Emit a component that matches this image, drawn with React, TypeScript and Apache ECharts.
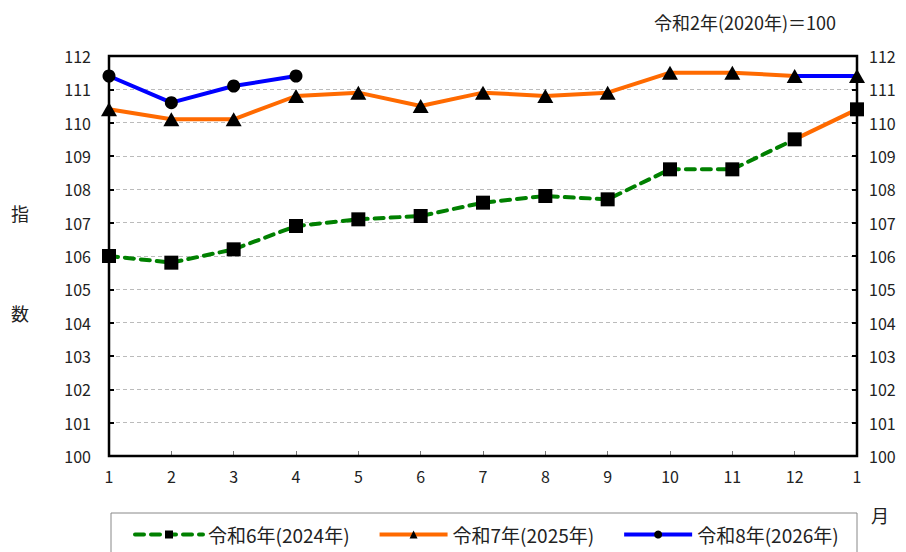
import React, { useEffect, useRef } from "react";
import * as echarts from "echarts";

const months = ["1", "2", "3", "4", "5", "6", "7", "8", "9", "10", "11", "12", "1"];
const r6Values = [106.0, 105.8, 106.2, 106.9, 107.1, 107.2, 107.6, 107.8, 107.7, 108.6, 108.6, 109.5, 110.4];
const r7Values = [110.4, 110.1, 110.1, 110.8, 110.9, 110.5, 110.9, 110.8, 110.9, 111.5, 111.5, 111.4, 111.4];
const r8Values = [111.4, 110.6, 111.1, 111.4];
const seriesNames = ["令和6年(2024年)", "令和7年(2025年)", "令和8年(2026年)"];
const yMin = 100;
const yMax = 112;

const FONT = "'Noto Sans CJK JP', 'Noto Sans', sans-serif";
const GREEN = "#008000";
const ORANGE = "#FF6A00";
const BLUE = "#0000FF";

// Dec -> next Jan segment is drawn in the next year's colour
const head = (vals: number[]) => vals.slice(0, vals.length - 1);
const tail = (vals: number[], symbol: string, size: number | number[]) =>
  vals.map((v, i) => {
    if (i < vals.length - 2) return null;
    if (i === vals.length - 2) return { value: v, symbol: "none" };
    return { value: v, symbol, symbolSize: size };
  });

export default function App() {
  const ref = useRef<HTMLDivElement>(null);
  useEffect(() => {
    document.body.style.margin = "0";
    const chart = echarts.init(ref.current!, null, { renderer: "svg" });
    const axisLabel = { fontFamily: FONT, fontSize: 16, color: "#222" };
    const gl = 109, gr = 49, gt = 56, gb = 96;
    chart.setOption({
      animation: false,
      textStyle: { fontFamily: FONT },
      grid: { left: gl, right: gr, top: gt, bottom: gb },
      xAxis: {
        type: "category",
        data: months,
        boundaryGap: false,
        axisLine: { show: true, lineStyle: { color: "#000", width: 2 } },
        axisTick: { show: true, inside: true, length: 5, lineStyle: { color: "#777" } },
        axisLabel: { ...axisLabel, margin: 12 },
        splitLine: { show: false },
      },
      yAxis: [
        {
          type: "value",
          min: yMin,
          max: yMax,
          interval: 1,
          position: "left",
          axisLine: { show: true, lineStyle: { color: "#000", width: 2 } },
          axisTick: { show: true, inside: true, length: 5, lineStyle: { color: "#000", width: 2 } },
          axisLabel: { ...axisLabel, margin: 18 },
          splitLine: { show: true, lineStyle: { color: "#bbb", type: [4, 3], width: 1 } },
        },
        {
          type: "value",
          min: yMin,
          max: yMax,
          interval: 1,
          position: "right",
          axisLine: { show: true, lineStyle: { color: "#000", width: 2 } },
          axisTick: { show: true, inside: true, length: 5, lineStyle: { color: "#000", width: 2 } },
          axisLabel: { ...axisLabel, margin: 12 },
          splitLine: { show: false },
        },
      ],
      legend: {
        data: seriesNames,
        left: 128,
        top: 520,
        itemWidth: 68,
        itemHeight: 10,
        itemGap: 28,
        lineStyle: { width: 4 },
        textStyle: { fontFamily: FONT, fontSize: 19, color: "#222" },
      },
      graphic: [
        {
          type: "rect",
          shape: { x: 111, y: 513, width: 746, height: 60 },
          style: { fill: "#fff", stroke: "#888", lineWidth: 1 },
          z: -1,
        },
        {
          type: "rect",
          shape: { x: gl, y: gt, width: 906 - gl - gr, height: 552 - gt - gb },
          style: { fill: "none", stroke: "#000", lineWidth: 2.5 },
          z: 3,
          silent: true,
        },
        { type: "text", x: 836, y: 22, style: { text: "令和2年(2020年)＝100", font: `18px ${FONT}`, fill: "#222", textAlign: "right", textVerticalAlign: "middle" } },
        { type: "text", x: 20, y: 213, style: { text: "指", font: `18px ${FONT}`, fill: "#222", textAlign: "center", textVerticalAlign: "middle" } },
        { type: "text", x: 20, y: 313, style: { text: "数", font: `18px ${FONT}`, fill: "#222", textAlign: "center", textVerticalAlign: "middle" } },
        { type: "text", x: 880, y: 515, style: { text: "月", font: `18px ${FONT}`, fill: "#222", textAlign: "center", textVerticalAlign: "middle" } },
      ],
      series: [
        {
          name: "r6tail",
          type: "line",
          data: tail(r6Values, "rect", 14),
          lineStyle: { color: ORANGE, width: 4 },
          itemStyle: { color: "#000" },
          clip: false,
          z: 2,
        },
        {
          name: "r7tail",
          type: "line",
          data: tail(r7Values, "triangle", [16, 14]),
          lineStyle: { color: BLUE, width: 4 },
          itemStyle: { color: "#000" },
          clip: false,
          z: 2,
        },
        {
          name: seriesNames[0],
          type: "line",
          data: head(r6Values),
          symbol: "rect",
          symbolSize: 14,
          showAllSymbol: true,
          lineStyle: { color: GREEN, width: 4, type: [9, 7], cap: "round" },
          itemStyle: { color: "#000" },
          clip: false,
          z: 4,
        },
        {
          name: seriesNames[1],
          type: "line",
          data: head(r7Values),
          symbol: "triangle",
          symbolSize: [16, 14],
          showAllSymbol: true,
          lineStyle: { color: ORANGE, width: 4 },
          itemStyle: { color: "#000" },
          clip: false,
          z: 4,
        },
        {
          name: seriesNames[2],
          type: "line",
          data: r8Values,
          symbol: "circle",
          symbolSize: 13,
          showAllSymbol: true,
          lineStyle: { color: BLUE, width: 4 },
          itemStyle: { color: "#000" },
          clip: false,
          z: 5,
        },
      ],
    });
    return () => chart.dispose();
  }, []);
  return <div ref={ref} style={{ width: 906, height: 552 }} />;
}
